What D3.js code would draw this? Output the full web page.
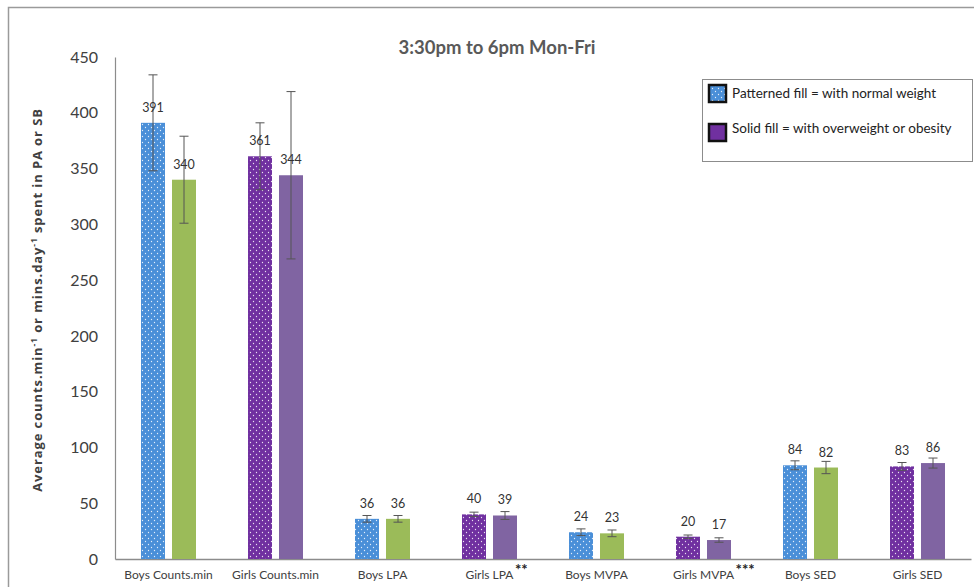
<!DOCTYPE html>
<html>
<head>
<meta charset="utf-8">
<script src="https://cdn.jsdelivr.net/npm/d3@7"></script>
<style>
  html, body { margin: 0; padding: 0; background: #fff; }
  svg { display: block; }
</style>
</head>
<body>
<svg id="chart" width="974" height="587"></svg>
<script>
// Average activity during 3:30pm–6pm, Mon–Fri, by sex and weight status
const categories = ["Boys Counts.min", "Girls Counts.min", "Boys LPA", "Girls LPA",
                    "Boys MVPA", "Girls MVPA", "Boys SED", "Girls SED"];
const normalWeight = [391, 361, 36, 40, 24, 20, 84, 83];
const overweight   = [340, 344, 36, 39, 23, 17, 82, 86];
const normalErr    = [43, 30, 3, 2, 3, 1.5, 4, 3.5];
const overweightErr = [39, 75, 3, 3.5, 3, 2, 5.5, 4.5];
const significance = ["", "", "", "**", "", "***", "", ""];
const yTicks = [0, 50, 100, 150, 200, 250, 300, 350, 400, 450];

const svg = d3.select("#chart");
const font = "Lato, 'Open Sans', sans-serif";

// colours: boys vs girls, patterned = normal weight, solid = overweight/obesity
const colBoysNormal = "#4a8fd8";
const colBoysOver = "#9bbb59";
const colGirlsNormal = "#7030a0";
const colGirlsOver = "#8064a2";

const defs = svg.append("defs");
function dotPattern(id, color) {
  const p = defs.append("pattern").attr("id", id)
    .attr("patternUnits", "userSpaceOnUse").attr("width", 6).attr("height", 6);
  p.append("rect").attr("width", 6).attr("height", 6).attr("fill", color);
  p.append("circle").attr("cx", 1.5).attr("cy", 1.5).attr("r", 0.65).attr("fill", "#fff").attr("opacity", 0.85);
  p.append("circle").attr("cx", 4.5).attr("cy", 4.5).attr("r", 0.65).attr("fill", "#fff").attr("opacity", 0.85);
}
dotPattern("dotsBlue", colBoysNormal);
dotPattern("dotsPurple", colGirlsNormal);

// outer frame (open to the right and bottom)
svg.append("rect").attr("x", 8.5).attr("y", 7.5).attr("width", 1000).attr("height", 600)
  .attr("fill", "none").attr("stroke", "#9a9a9a").attr("stroke-width", 1.5);

const x = d3.scaleBand().domain(categories).range([115, 971]).padding(0);
const y = d3.scaleLinear().domain([0, 450]).range([559, 57]);

const barW = 24, gap = 7;

// y axis
const yAxis = svg.append("g").attr("transform", "translate(115,0)")
  .call(d3.axisLeft(y).tickValues(yTicks).tickSize(0).tickPadding(17));
yAxis.select(".domain").attr("stroke", "#8c8c8c").attr("stroke-width", 1.2);
yAxis.selectAll("text").attr("font-family", font).attr("font-size", 16).attr("fill", "#404040");

// x axis
const xAxis = svg.append("g").attr("transform", "translate(0,559)")
  .call(d3.axisBottom(x).tickSize(0).tickPadding(11));
xAxis.select(".domain").attr("stroke", "#8c8c8c").attr("stroke-width", 1.5);
xAxis.selectAll("text").attr("font-family", font).attr("font-size", 12).attr("fill", "#404040");

// significance markers: raised asterisks following the category name,
// while the name itself stays centred under its bar pair
xAxis.selectAll(".tick").each(function(d, i) {
  if (!significance[i]) return;
  const t = d3.select(this).select("text");
  const w = t.node().getComputedTextLength();
  t.attr("text-anchor", "start").attr("x", -w / 2);
  t.append("tspan").attr("dx", 1.5).attr("dy", -4)
    .attr("font-size", 15).attr("font-weight", "bold").attr("fill", "#222")
    .text(significance[i]);
});

const rows = categories.map((c, i) => ({
  cat: c, i,
  isBoys: c.startsWith("Boys"),
  n: normalWeight[i], o: overweight[i],
  ne: normalErr[i], oe: overweightErr[i]
}));

const bars = [];
rows.forEach(r => {
  const cx = x(r.cat) + x.bandwidth() / 2;
  bars.push({ x: cx - gap / 2 - barW, v: r.n, e: r.ne,
    fill: r.isBoys ? "url(#dotsBlue)" : "url(#dotsPurple)" });
  bars.push({ x: cx + gap / 2, v: r.o, e: r.oe,
    fill: r.isBoys ? colBoysOver : colGirlsOver });
});

const g = svg.append("g");
g.selectAll("rect.bar").data(bars).join("rect").attr("class", "bar")
  .attr("x", d => d.x).attr("width", barW)
  .attr("y", d => y(d.v)).attr("height", d => y(0) - y(d.v))
  .attr("fill", d => d.fill);

// error bars
const eb = g.selectAll("g.err").data(bars).join("g").attr("class", "err")
  .attr("stroke", "#555").attr("stroke-width", 1);
eb.append("line").attr("x1", d => d.x + barW / 2).attr("x2", d => d.x + barW / 2)
  .attr("y1", d => y(d.v + d.e)).attr("y2", d => y(d.v - d.e));
eb.append("line").attr("x1", d => d.x + barW / 2 - 4.5).attr("x2", d => d.x + barW / 2 + 4.5)
  .attr("y1", d => y(d.v + d.e)).attr("y2", d => y(d.v + d.e));
eb.append("line").attr("x1", d => d.x + barW / 2 - 4.5).attr("x2", d => d.x + barW / 2 + 4.5)
  .attr("y1", d => y(d.v - d.e)).attr("y2", d => y(d.v - d.e));

// value labels
g.selectAll("text.val").data(bars).join("text").attr("class", "val")
  .attr("x", d => d.x + barW / 2).attr("y", d => y(d.v) - 11)
  .attr("text-anchor", "middle").attr("font-family", font).attr("font-size", 12.5)
  .attr("fill", "#333").text(d => d.v);

// title
svg.append("text").attr("x", 497).attr("y", 54).attr("text-anchor", "middle")
  .attr("font-family", font).attr("font-size", 18.5).attr("font-weight", "bold")
  .attr("fill", "#595959").text("3:30pm to 6pm Mon-Fri");

// y axis title with superscripts
const yt = svg.append("text").attr("transform", "translate(42,300) rotate(-90)")
  .attr("text-anchor", "middle").attr("font-family", "'Open Sans', sans-serif").attr("font-size", 13)
  .attr("letter-spacing", 0.9)
  .attr("font-weight", "bold").attr("fill", "#404040");
yt.append("tspan").text("Average counts.min");
yt.append("tspan").attr("dy", -5).attr("font-size", 8.5).text("-1");
yt.append("tspan").attr("dy", 5).text(" or mins.day");
yt.append("tspan").attr("dy", -5).attr("font-size", 8.5).text("-1");
yt.append("tspan").attr("dy", 5).text(" spent in PA or SB");

// legend
const lg = svg.append("g");
lg.append("rect").attr("x", 702.5).attr("y", 79.5).attr("width", 270).attr("height", 82)
  .attr("fill", "#fff").attr("stroke", "#8c8c8c").attr("stroke-width", 1);
const legendItems = [
  { fill: "url(#dotsBlue)", label: "Patterned fill = with normal weight", y: 85, ty: 98 },
  { fill: colGirlsNormal, label: "Solid fill = with overweight or obesity", y: 124, ty: 133 }
];
legendItems.forEach(it => {
  lg.append("rect").attr("x", 709).attr("y", it.y).attr("width", 17).attr("height", 17)
    .attr("fill", it.fill).attr("stroke", "#111").attr("stroke-width", 2.5);
  lg.append("text").attr("x", 732).attr("y", it.ty).attr("font-family", font)
    .attr("font-size", 13.5).attr("fill", "#222").text(it.label);
});
</script>
</body>
</html>
